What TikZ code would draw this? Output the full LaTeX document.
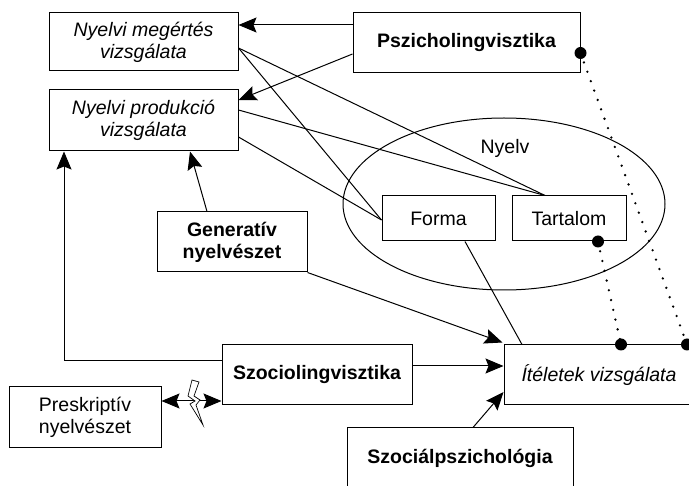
\documentclass[tikz,border=0pt]{standalone}
\usepackage{fontspec}
\setmainfont{Liberation Sans}
\usetikzlibrary{arrows.meta,shapes.geometric}
\begin{document}
\begin{tikzpicture}[x=1pt,y=-1pt,
  box/.style={draw, line width=1pt, align=center, inner sep=0pt, font=\fontsize{19.5}{22}\selectfont},
  bbox/.style={box, font=\fontsize{19.5}{22}\selectfont\bfseries},
  ibox/.style={box, font=\fontsize{19.5}{22}\selectfont\itshape},
  ln/.style={line width=1pt},
  arr/.style={ln, -{Stealth[length=18pt,width=15pt,inset=3pt]}},
  dbl/.style={ln, {Stealth[length=18pt,width=15pt,inset=3pt]}-{Stealth[length=18pt,width=15pt,inset=3pt]}},
  dotline/.style={line width=2.6pt, dash pattern=on 0pt off 10pt, line cap=round},
  bigdot/.style={circle, fill=black, inner sep=0pt, minimum size=12pt}
]
\clip (0,0) rectangle (689,486);
\fill[white] (0,0) rectangle (689,486);
% ellipse
\node[draw, ln, ellipse, minimum width=322pt, minimum height=172pt, inner sep=0pt] (ell) at (504,204) {};
\node[font=\fontsize{19.5}{22}\selectfont] (nyelv) at (505,148) {Nyelv};
% boxes
\node[ibox, minimum width=189pt, minimum height=58pt] (meg) at (143.5,42) {Nyelvi megértés\\vizsgálata};
\node[ibox, minimum width=189pt, minimum height=61pt] (prod) at (143.5,120.5) {Nyelvi produkció\\vizsgálata};
\node[bbox, minimum width=227pt, minimum height=60pt] (psz) at (466.5,42.5) {Pszicholingvisztika};
\node[box, minimum width=113pt, minimum height=45pt] (forma) at (438.5,218.5) {Forma};
\node[box, minimum width=114pt, minimum height=45pt] (tart) at (569,218.5) {Tartalom};
\node[bbox, minimum width=150pt, minimum height=60pt] (gen) at (232,242) {Generatív\\nyelvészet};
\node[bbox, minimum width=190pt, minimum height=60pt] (szoc) at (317,375) {Szociolingvisztika};
\node[box, minimum width=152pt, minimum height=61pt] (pres) at (85,417.5) {Preskriptív\\nyelvészet};
\node[ibox, minimum width=190pt, minimum height=60pt] (itel) at (599,375) {Ítéletek vizsgálata};
\node[bbox, minimum width=226pt, minimum height=60pt] (szps) at (460,458) {Szociálpszichológia};
% connectors
\draw[arr] ([yshift=17.5pt]psz.west) -- ([yshift=17pt]meg.east);
\draw[arr] ([yshift=-11.5pt]psz.west) -- ([yshift=20.5pt]prod.east);
\draw[ln] ([yshift=-6pt]meg.east) -- ([yshift=-1.5pt]forma.west);
\draw[ln] ([yshift=-6pt]meg.east) -- ([xshift=-24pt]tart.north);
\draw[ln] ([yshift=10.5pt]prod.east) -- ([xshift=-24pt]tart.north);
\draw[ln] ([yshift=-16.5pt]prod.east) -- ([yshift=-1.5pt]forma.west);
\draw[arr] ([xshift=-25pt]gen.north) -- ([xshift=46.5pt]prod.south);
\draw[arr] (gen.south east) -- ([xshift=-1pt,yshift=2pt]itel.north west);
\draw[arr] ([yshift=14pt]szoc.west) -| ([xshift=-79.5pt]prod.south);
\draw[arr] ([yshift=9pt]szoc.east) -- ([yshift=9pt]itel.west);
\draw[arr] ([xshift=13pt]szps.north) -- ([yshift=-17pt]itel.west);
\draw[ln] ([xshift=26.5pt]forma.south) -- ([xshift=-77pt]itel.north);
\draw[dbl] ([yshift=16.5pt]pres.east) -- ([yshift=-26pt]szoc.west);
% lightning
\draw[line width=0.7pt, fill=white] (192,380) -- (199,382) -- (194,396) -- (200,400) -- (196,405) -- (203,425) -- (190,404) -- (195,401) -- (188,396) -- cycle;
% dotted lines
\draw[dotline] ([yshift=-10.5pt]psz.east) -- ([xshift=88pt]itel.north);
\draw[dotline] ([xshift=29pt]tart.south) -- ([xshift=22pt]itel.north);
\node[bigdot] (d1) at ([yshift=-10.5pt]psz.east) {};
\node[bigdot] (d2) at ([xshift=88pt]itel.north) {};
\node[bigdot] (d3) at ([xshift=29pt]tart.south) {};
\node[bigdot] (d4) at ([xshift=22pt]itel.north) {};
\end{tikzpicture}
\end{document}
